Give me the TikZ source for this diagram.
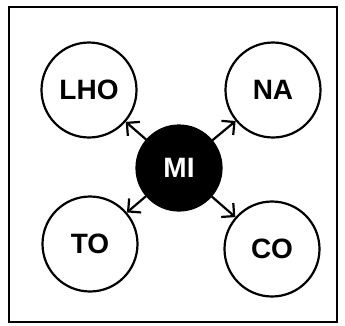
\documentclass[tikz,border=0pt]{standalone}
\usepackage{fontspec}
\setmainfont{Liberation Sans}
\usetikzlibrary{arrows.meta,positioning}

\begin{document}
\begin{tikzpicture}[x=1pt,y=-1pt,
  party/.style={shape=circle,draw,line width=2.2pt,minimum size=95pt,inner sep=0pt,
    font=\fontsize{28}{28}\selectfont\bfseries},
  hub/.style={party,fill=black,text=white,minimum size=85pt},
  link/.style={line width=2.2pt,-{Straight Barb[angle=90:13pt]}}]

\useasboundingbox (0,0) rectangle (345,325);
\draw[line width=2.5pt] (9,7) rectangle (337,322);

\node[hub] (MI) at (179,168){MI};
\node[party] (LHO) at (89,90){LHO};
\node[party] (NA) at (273,90){NA};
\node[party] (TO) at (90,244){TO};
\node[party] (CO) at (272,249){CO};

\draw[link] (MI) -- (LHO);
\draw[link] (MI) -- (NA);
\draw[link] (MI) -- (TO);
\draw[link] (MI) -- (CO);

\end{tikzpicture}
\end{document}
